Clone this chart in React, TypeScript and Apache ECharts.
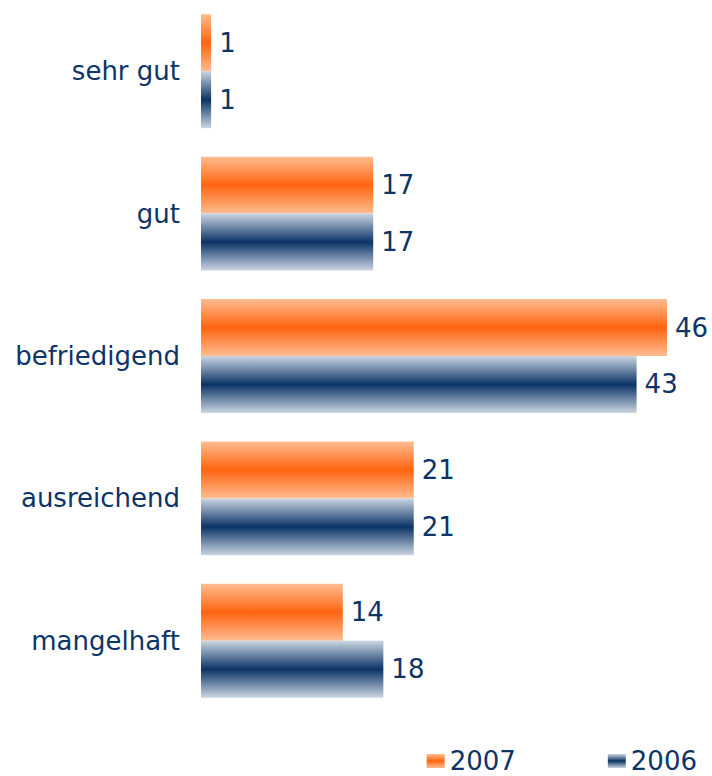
import React, { useEffect, useRef } from "react";
import * as echarts from "echarts";

const categories = ["sehr gut", "gut", "befriedigend", "ausreichend", "mangelhaft"];
const values2007 = [1, 17, 46, 21, 14];
const values2006 = [1, 17, 43, 21, 18];
const seriesNames = ["2007", "2006"];

const TEXT = "#0c3466";
const FONT = "'DejaVu Sans', Verdana, sans-serif";

const orangeGrad = new echarts.graphic.LinearGradient(0, 0, 0, 1, [
  { offset: 0, color: "#ffbd92" },
  { offset: 0.5, color: "#ff6410" },
  { offset: 1, color: "#ffbd92" },
]);
const navyGrad = new echarts.graphic.LinearGradient(0, 0, 0, 1, [
  { offset: 0, color: "#cbd6e2" },
  { offset: 0.5, color: "#0b3366" },
  { offset: 1, color: "#cbd6e2" },
]);

export default function App() {
  const ref = useRef<HTMLDivElement>(null);
  useEffect(() => {
    if (!ref.current) return;
    const chart = echarts.init(ref.current, undefined, { renderer: "svg" });
    const label = {
      show: true,
      position: "right" as const,
      distance: 8,
      color: TEXT,
      fontSize: 26,
      fontFamily: FONT,
    };
    chart.setOption({
      animation: false,
      textStyle: { fontFamily: FONT },
      legend: {
        right: 10,
        top: 743,
        itemWidth: 18,
        itemHeight: 14,
        itemGap: 92,
        icon: "rect",
        textStyle: { color: TEXT, fontSize: 26, fontFamily: FONT },
        data: seriesNames,
      },
      grid: { left: 201, width: 466, top: -6, height: 718 },
      xAxis: { type: "value", min: 0, max: 46, show: false },
      yAxis: {
        type: "category",
        inverse: true,
        data: categories,
        axisLine: { show: false },
        axisTick: { show: false },
        axisLabel: { color: TEXT, fontSize: 26, fontFamily: FONT, margin: 21 },
      },
      series: [
        {
          name: seriesNames[0],
          type: "bar",
          data: values2007,
          barGap: "0%",
          barCategoryGap: "20%",
          itemStyle: { color: orangeGrad },
          label,
        },
        {
          name: seriesNames[1],
          type: "bar",
          data: values2006,
          barGap: "0%",
          barCategoryGap: "20%",
          itemStyle: { color: navyGrad },
          label,
        },
      ],
    });
    return () => chart.dispose();
  }, []);
  return (
    <div
      ref={ref}
      style={{ position: "fixed", left: 0, top: 0, width: 712, height: 776, background: "#fff" }}
    />
  );
}
